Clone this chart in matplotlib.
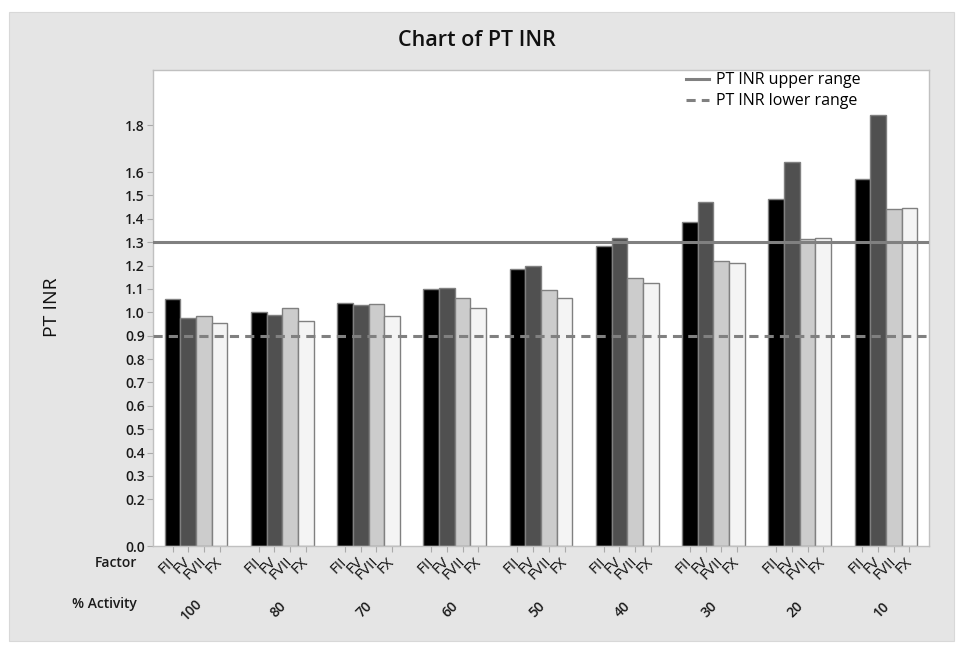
import numpy as np
import matplotlib.pyplot as plt
from matplotlib.patches import Rectangle
from matplotlib.lines import Line2D

plt.rcParams['font.family'] = ['Open Sans', 'DejaVu Sans']

activity = ['100', '80', '70', '60', '50', '40', '30', '20', '10']
factors = ['FII', 'FV', 'FVII', 'FX']

fii = [1.057, 1.003, 1.038, 1.100, 1.185, 1.285, 1.388, 1.486, 1.570]
fv = [0.977, 0.987, 1.033, 1.103, 1.198, 1.319, 1.471, 1.643, 1.843]
fvii = [0.985, 1.017, 1.036, 1.060, 1.095, 1.145, 1.218, 1.312, 1.441]
fx = [0.953, 0.964, 0.983, 1.017, 1.062, 1.127, 1.210, 1.317, 1.448]

upper_range = 1.3
lower_range = 0.9

yticks = [0.0, 0.2, 0.3, 0.4, 0.5, 0.6, 0.7, 0.8, 0.9, 1.0, 1.1, 1.2, 1.3, 1.4, 1.5, 1.6, 1.8]

colors = ['#000000', '#505050', '#cccccc', '#f4f4f4']
edge = '#808080'

fig = plt.figure(figsize=(9.61, 6.45), dpi=100, facecolor='white')
fig.patches.append(Rectangle((9 / 961, 1 - 641 / 645), 945 / 961, 629 / 645,
                             transform=fig.transFigure, facecolor='#e5e5e5',
                             edgecolor='#d8d8d8', lw=0.8, zorder=-10))

ax = fig.add_axes([153 / 961, 1 - 546 / 645, 776 / 961, 476 / 645])

x = np.arange(len(activity))
w = 0.182
offsets = (np.arange(4) - 1.5) * w
tick_pos = []
tick_lab = []
for i, vals in enumerate([fii, fv, fvii, fx]):
    ax.bar(x + offsets[i], vals, width=w, color=colors[i], edgecolor=edge, lw=1.0, zorder=2)
for g in x:
    for i, f in enumerate(factors):
        tick_pos.append(g + offsets[i])
        tick_lab.append(f)

ax.axhline(upper_range, color='#808080', lw=2.2, zorder=3)
ax.axhline(lower_range, color='#808080', lw=2.2, ls=(0, (3, 2)), zorder=3)

ax.set_xlim(-0.5, len(activity) - 0.5)
ax.set_ylim(0, 2.037)
ax.set_yticks(yticks)
ax.set_yticklabels([f'{t:.1f}' for t in yticks], fontsize=10, fontweight='semibold', color='#1a1a1a')
ax.set_xticks(tick_pos)
ax.set_xticklabels(tick_lab, rotation=45, ha='right', va='center', rotation_mode='anchor',
                   fontsize=11, color='#111111')
ax.tick_params(axis='x', length=4, color='#aaaaaa', pad=6)
ax.tick_params(axis='y', length=4, color='#aaaaaa', pad=2)
for s in ax.spines.values():
    s.set_color('#c0c0c0')
    s.set_linewidth(1.0)

trans = ax.get_xaxis_transform()
for g, lab in zip(x, activity):
    ax.text(g - 0.05, -0.134, lab, transform=trans, rotation=45, ha='center', va='center',
            fontsize=10, fontweight='semibold', color='#1a1a1a')

fig.text(137 / 961, 1 - 563 / 645, 'Factor', ha='right', va='center', fontsize=10,
         fontweight='semibold', color='#1a1a1a')
fig.text(137 / 961, 1 - 604 / 645, '% Activity', ha='right', va='center', fontsize=10,
         fontweight='semibold', color='#1a1a1a')
fig.text(477 / 961, 1 - 40 / 645, 'Chart of PT INR', ha='center', va='center', fontsize=15.5,
         fontweight='semibold', color='#111111')
fig.text(52 / 961, 1 - 307 / 645, 'PT INR', rotation=90, ha='center', va='center', fontsize=14,
         color='#111111')

handles = [Line2D([], [], color='#808080', lw=2.2),
           Line2D([], [], color='#808080', lw=2.2, ls=(0, (3, 2)))]
ax.legend(handles, ['PT INR upper range', 'PT INR lower range'], loc='upper left',
          bbox_to_anchor=((686 - 153) / 776, 0.995), frameon=False, fontsize=11.5,
          borderpad=0, borderaxespad=0, handlelength=1.45, handletextpad=0.45,
          labelspacing=0.3)

fig.savefig('out.png', dpi=100, facecolor='white')
